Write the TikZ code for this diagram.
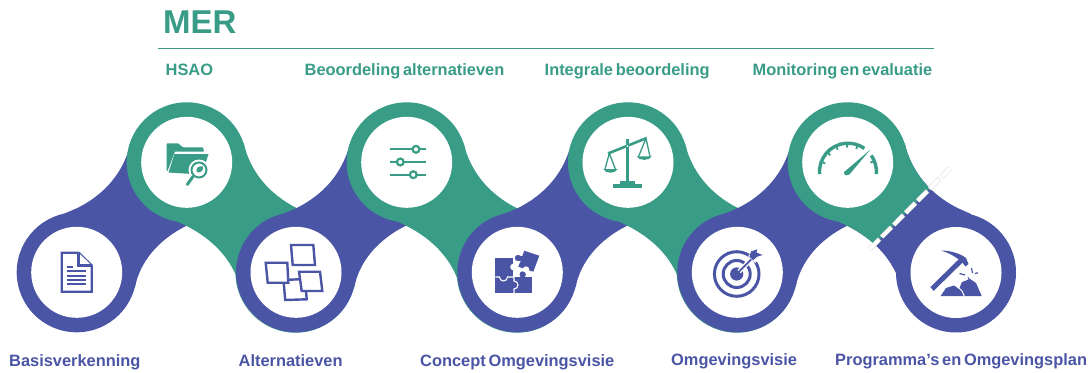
\documentclass[tikz,border=0pt]{standalone}
\usepackage{fontspec}
\setmainfont[WordSpace=0.6]{Liberation Sans}
\definecolor{merblue}{HTML}{4B55A5}
\definecolor{mergreen}{HTML}{399C87}
\tikzset{
  ringblue/.style={circle,fill=merblue,minimum size=120pt,inner sep=0},
  ringgreen/.style={circle,fill=mergreen,minimum size=120pt,inner sep=0},
  hole/.style={circle,fill=white,minimum size=91pt,inner sep=0},
  lblblue/.style={anchor=base west,inner sep=0,text=merblue,font=\bfseries\fontsize{16.4pt}{18pt}\selectfont},
  lblgreen/.style={anchor=base west,inner sep=0,text=mergreen,font=\bfseries\fontsize{16.4pt}{18pt}\selectfont},
  icb/.style={draw=merblue,line width=2.4pt,fill=white,line join=miter},
}
\newcommand{\bluelink}[1]{\fill[merblue,shift={(#1,0)}] (63.4,214) -- (77.4,208) .. controls (105.4,194) and (123.4,172) .. (130.5,144) -- (186.7,162.3) -- (200,220) -- (186,226) .. controls (158,240) and (140,262) .. (135,287) -- (76.7,272.3) -- cycle;}
\newcommand{\linkshape}{(243.5,143) .. controls (250.5,172) and (269,194) .. (296.5,208) -- (310,214) -- (296,272.3) -- (239.5,285) .. controls (232,260) and (214,240) .. (186.7,226) -- (172,219) -- (186.7,162.3) -- cycle}
\newcommand{\greenlink}[1]{\fill[mergreen,shift={(#1,0)}] \linkshape;}
\begin{document}
\begin{tikzpicture}[x=1pt,y=-1pt]
\useasboundingbox (0,0) rectangle (1089,372);
\fill[white] (0,0) rectangle (1089,372);
% header
\node[anchor=base west,inner sep=0,text=mergreen,font=\bfseries\fontsize{33pt}{36pt}\selectfont] (mer) at (163,33) {MER};
\coordinate (rl) at (158,48.3);
\coordinate (rr) at (934,48.3);
\draw[mergreen,line width=1.2pt] (rl) -- (rr);
\node[lblgreen] (t1) at (165.5,75) {HSAO};
\node[lblgreen] (t2) at (304.5,75) {Beoordeling alternatieven};
\node[lblgreen] (t3) at (544.5,75) {Integrale beoordeling};
\node[lblgreen] (t4) at (752.5,75) {Monitoring en evaluatie};
\node[lblblue] (l1) at (9,366) {Basisverkenning};
\node[lblblue] (l2) at (238.5,366.5) {Alternatieven};
\node[lblblue] (l3) at (420,366.5) {Concept Omgevingsvisie};
\node[lblblue] (l4) at (671,365) {Omgevingsvisie};
\node[lblblue] (l5) at (835,365) {Programma’s en Omgevingsplan};
% chain
\node[ringblue] (b1) at (76.7,272.3) {};
\bluelink{0}
\greenlink{0}
\node[ringgreen] (g1) at (186.7,162.3) {};
\fill[mergreen] (295.5,272.7) circle (60pt);
\bluelink{219.3}
\node[ringblue] (b2) at (296,272.3) {};
\greenlink{220}
\node[ringgreen] (g2) at (406.7,162.3) {};
\fill[mergreen] (516.8,272.7) circle (60pt);
\bluelink{440.6}
\node[ringblue] (b3) at (517.3,272.3) {};
\greenlink{441.3}
\node[ringgreen] (g3) at (628,162.3) {};
\fill[mergreen] (736.8,272.7) circle (60pt);
\bluelink{660.6}
\node[ringblue] (b4) at (737.3,272.3) {};
\fill[merblue,shift={(661,0)}] \linkshape;
\begin{scope}
\clip (870,249.3) -- (950,168.3) -- (900,100) -- (800,150) -- (800,250) -- cycle;
\greenlink{661}
\end{scope}
\node[ringgreen] (g4) at (847.7,162.3) {};
\node[ringblue] (b5) at (956,272.5) {};
% holes
\foreach \n in {b1,b2,b3,b4,b5,g1,g2,g3,g4}{\node[hole] at (\n) {};}
% dashed divider
\coordinate (da) at (869.7,249);
\coordinate (db) at (950,168.3);
\draw[black!22,line width=4.7pt,dash pattern=on 14pt off 3pt] (da) -- (db);
\draw[white,line width=4pt,dash pattern=on 13.5pt off 3.5pt] (da) -- (db);
% document icon
\draw[icb] (61.7,252.7) -- (78.5,252.7) -- (91.7,265.5) -- (91.7,291.7) -- (61.7,291.7) -- cycle;
\draw[icb] (78.5,252.7) -- (78.5,265.5) -- (91.7,265.5);
\foreach \y/\xe in {267/73,271/86,275.7/86,279.7/86,284/86}{\draw[merblue,line width=1.8pt] (66.7,\y) -- (\xe,\y);}
% folder icon
\fill[mergreen,rounded corners=0.6pt] (166.7,143.3) -- (178,143.3) -- (183,147.3) -- (203,147.3) -- (204,151.5) -- (175,151.5) -- (167.5,171) -- (166.7,171) -- cycle;
\fill[mergreen] (174.5,154) -- (208.5,154) -- (204,168) -- (192,174) -- (168.5,172.5) -- cycle;
\fill[white] (199,170) circle (10.5pt);
\draw[mergreen,line width=2pt] (199,170) circle (7.5pt);
\fill[mergreen] (196.5,172) .. controls (195.5,168) and (199,165.5) .. (203,166.5) .. controls (203.5,171) and (200,173.5) .. (196.5,172) -- cycle;
\draw[mergreen,line width=3pt,line cap=round] (193,176.5) -- (187.3,184.5);
% sliders
\foreach \y/\k in {149.3/416,162/400.3,174.7/413.3}{
  \draw[mergreen,line width=2.2pt] (390,\y) -- (425.7,\y);
  \draw[mergreen,line width=2.2pt,fill=white] (\k,\y) circle (3.4pt);
}
% scales
\fill[mergreen] (625.7,138.5) rectangle (629,183);
\fill[mergreen] (620,181) rectangle (635,184);
\fill[mergreen] (612.7,183.5) rectangle (642.3,187.5);
\draw[mergreen,line width=2.6pt] (608,153.5) -- (646.3,138.2);
\fill[white] (627.3,146) circle (1pt);
\draw[mergreen,line width=1.3pt] (605,169.3) -- (609.3,153.3) -- (615.5,169.3);
\draw[mergreen,line width=1.3pt] (638.5,156.7) -- (646,138.3) -- (650,156.7);
\fill[mergreen] (603.3,169) -- (617.5,169) .. controls (616,174) and (605,174) .. (603.3,169) -- cycle;
\fill[mergreen] (636.7,156.4) -- (651.7,156.4) .. controls (650,161) and (638.5,161) .. (636.7,156.4) -- cycle;
% notes
\draw[icb] (283.5,280) -- (305,279) -- (306.7,299.3) -- (285.2,300) -- cycle;
\draw[icb] (265.7,262.7) -- (287.3,262.7) -- (288.3,282.7) -- (267.7,282.7) -- cycle;
\draw[icb] (299,271.7) -- (320,271.7) -- (322.3,291) -- (301.7,291) -- cycle;
\draw[icb] (291,245) -- (313.3,245) -- (315,265) -- (292.7,265) -- cycle;
% puzzle
\fill[merblue] (495.3,257.7) rectangle (513.3,278);
\fill[merblue] (495.3,277) rectangle (531.7,293.3);
\fill[merblue] (522.7,274.5) circle (3.2pt);
\fill[white] (513.6,267) circle (3.4pt);
\fill[white] (513.3,262) rectangle (515,277);
\fill[merblue] (524.3,250.7) -- (539.3,255.7) -- (533.3,271.7) -- (518.3,266.7) -- cycle;
\fill[white] (526,269.5) circle (3.2pt);
\fill[white] (518,258) circle (4.4pt);
\fill[merblue] (518,258) circle (3.2pt);
\fill[merblue] (519,256) rectangle (524,261);
\draw[white,line width=1.1pt] (495.3,277) -- (499.5,277) arc[start angle=180,end angle=360,radius=4pt] -- (514,277) -- (514,281) arc[start angle=90,end angle=-90,radius=4pt] -- (514,293.3);
% target
\draw[merblue,line width=3pt] (736.7,274) circle (22.3pt);
\draw[merblue,line width=3pt] (736.7,274) circle (13.5pt);
\fill[merblue] (736.7,274) circle (6.6pt);
\draw[white,line width=4.5pt] (739,271.7) -- (752,258.5);
\draw[merblue,line width=1.8pt] (737,273.7) -- (752,258.5);
\fill[white] (748,256) -- (757,247) -- (764.5,255) -- (755,263) -- cycle;
\fill[merblue] (749.5,256.5) -- (751,251.5) -- (757.3,249.3) -- (756.5,252.5) -- (762.5,255) -- (757,256.8) -- (753,260.3) -- cycle;
% gauge
\draw[mergreen,line width=3.4pt] (819.6,174.2) arc[start angle=185,end angle=55,radius=28.5pt];
\draw[mergreen,line width=3.4pt] (871.3,155.4) arc[start angle=35,end angle=-5,radius=28.5pt];
\begin{scope}[shift={(848,171.7)}]
\foreach \a in {160,137,115,92,70,22}{\draw[mergreen,line width=1.8pt] (-\a:27) -- (-\a:24.2);}
\end{scope}
\fill[mergreen] (870.3,149.7) -- (849.3,174.6) -- (846.5,175) -- (844.6,171.6) -- cycle;
\fill[mergreen] (846.3,173) circle (2.3pt);
% pickaxe
\draw[merblue,line width=5pt] (932,289) -- (963,258.6);
\fill[merblue] (941,250.5) .. controls (951,250.5) and (961,254) .. (966,258) -- (968.5,264) -- (965.5,266.5) .. controls (960,259) and (951,253.5) .. (941,250.5) -- cycle;
\fill[merblue] (940.7,296) -- (946,288) -- (954,285.5) -- (959,289) -- (962,282) -- (970,279) -- (976,283) -- (981.7,296) -- cycle;
\draw[white,line width=1pt] (957,286) -- (962,291) -- (964.5,296.5);
\draw[merblue,line width=1.2pt] (971.5,268) -- (972.5,273);
\draw[merblue,line width=1.2pt] (975,273.5) -- (978,272.8);
\draw[merblue,line width=1.2pt] (959.5,273.5) -- (965,275);
\draw[merblue,line width=1.2pt] (968,277.5) -- (970,281);
\end{tikzpicture}
\end{document}
